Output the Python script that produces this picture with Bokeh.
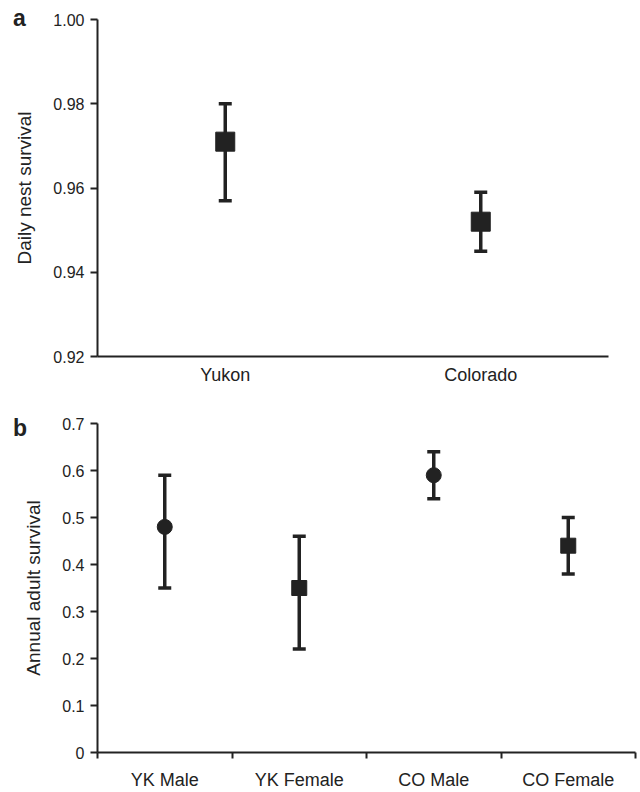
from bokeh.plotting import figure
from bokeh.models import (ColumnDataSource, Whisker, TeeHead, Range1d,
                          FixedTicker, Div)
from bokeh.embed import file_html
from bokeh.resources import INLINE

# ---- data: panel a (daily nest survival) ----
sites = ["Yukon", "Colorado"]
nest_surv = [0.971, 0.952]
nest_lo = [0.957, 0.945]
nest_hi = [0.980, 0.959]
a_ticks = [0.92, 0.94, 0.96, 0.98, 1.00]
a_tick_labels = ["0.92", "0.94", "0.96", "0.98", "1.00"]

# ---- data: panel b (annual adult survival) ----
groups = ["YK Male", "YK Female", "CO Male", "CO Female"]
adult_surv = [0.48, 0.35, 0.59, 0.44]
adult_lo = [0.35, 0.22, 0.54, 0.38]
adult_hi = [0.59, 0.46, 0.64, 0.50]
group_markers = ["circle", "square", "circle", "square"]
b_ticks = [0.0, 0.1, 0.2, 0.3, 0.4, 0.5, 0.6, 0.7]
b_tick_labels = ["0", "0.1", "0.2", "0.3", "0.4", "0.5", "0.6", "0.7"]

panel_letters = ["a", "b"]

INK = "#222222"
FONT = "Liberation Sans"


def style_axes(p):
    p.grid.visible = False
    p.outline_line_color = None
    p.background_fill_color = "white"
    p.border_fill_color = "white"
    for ax in (p.xaxis[0], p.yaxis[0]):
        ax.axis_line_color = INK
        ax.axis_line_width = 2
        ax.major_tick_line_color = INK
        ax.major_tick_line_width = 2
        ax.minor_tick_line_color = INK
        ax.minor_tick_line_width = 2
        ax.major_label_text_font = FONT
        ax.major_label_text_color = INK
        ax.axis_label_text_font = FONT
        ax.axis_label_text_color = INK
        ax.axis_label_text_font_style = "normal"
        ax.axis_label_text_font_size = "19px"
    p.yaxis.major_tick_out = 7
    p.yaxis.major_tick_in = 0
    p.yaxis.minor_tick_out = 0
    p.yaxis.minor_tick_in = 0
    p.yaxis.major_label_standoff = 6
    p.yaxis.major_label_text_font_size = "16px"
    p.yaxis.axis_label_standoff = 15
    p.xaxis.major_label_text_font_size = "18px"


def letter(text, top):
    return Div(text=text, styles={
        "position": "absolute", "left": "13px", "top": f"{top}px",
        "font-family": FONT, "font-size": "23px", "font-weight": "bold",
        "color": INK, "line-height": "23px", "margin": "0", "padding": "0"})


# ---------------- panel a ----------------
xa = [i + 0.5 for i in range(len(sites))]
src_a = ColumnDataSource(dict(x=xa, y=nest_surv, lo=nest_lo, hi=nest_hi))
pa = figure(width=640, height=387, x_range=Range1d(0, len(sites)),
            y_range=Range1d(a_ticks[0], a_ticks[-1]),
            output_backend="svg", toolbar_location=None,
            min_border_left=97, min_border_right=32, min_border_top=19, min_border_bottom=31)
pa.add_layout(Whisker(base="x", upper="hi", lower="lo", source=src_a,
                      line_color=INK, line_width=3.5,
                      upper_head=TeeHead(size=13, line_color=INK, line_width=3.5),
                      lower_head=TeeHead(size=13, line_color=INK, line_width=3.5)))
pa.scatter("x", "y", source=src_a, marker="square", size=19,
           fill_color=INK, line_color=INK)
style_axes(pa)
pa.yaxis.ticker = FixedTicker(ticks=a_ticks)
pa.yaxis.major_label_overrides = {t: l for t, l in zip(a_ticks, a_tick_labels)}
pa.yaxis.axis_label = "Daily nest survival"
pa.xaxis.ticker = FixedTicker(ticks=xa)
pa.xaxis.major_label_overrides = {x: s for x, s in zip(xa, sites)}
pa.xaxis.major_tick_out = 0
pa.xaxis.major_tick_in = 0
pa.xaxis.minor_tick_out = 0
pa.xaxis.minor_tick_in = 0
pa.xaxis.major_label_standoff = 8

# ---------------- panel b ----------------
xb = [i + 0.5 for i in range(len(groups))]
src_b = ColumnDataSource(dict(x=xb, y=adult_surv, lo=adult_lo, hi=adult_hi,
                              m=group_markers))
pb = figure(width=640, height=405, x_range=Range1d(0, len(groups)),
            y_range=Range1d(b_ticks[0], b_ticks[-1]),
            output_backend="svg", toolbar_location=None,
            min_border_left=97, min_border_right=5, min_border_top=36, min_border_bottom=39)
pb.add_layout(Whisker(base="x", upper="hi", lower="lo", source=src_b,
                      line_color=INK, line_width=3.5,
                      upper_head=TeeHead(size=13, line_color=INK, line_width=3.5),
                      lower_head=TeeHead(size=13, line_color=INK, line_width=3.5)))
pb.scatter("x", "y", source=src_b, marker="m", size=15,
           fill_color=INK, line_color=INK)
style_axes(pb)
pb.yaxis.ticker = FixedTicker(ticks=b_ticks)
pb.yaxis.major_label_overrides = {t: l for t, l in zip(b_ticks, b_tick_labels)}
pb.yaxis.axis_label = "Annual adult survival"
pb.xaxis.ticker = FixedTicker(ticks=xb, minor_ticks=list(range(len(groups) + 1)))
pb.xaxis.major_label_overrides = {x: g for x, g in zip(xb, groups)}
pb.xaxis.major_tick_out = 0
pb.xaxis.major_tick_in = 0
pb.xaxis.minor_tick_out = 6
pb.xaxis.minor_tick_in = 0
pb.xaxis.major_label_standoff = 11

div_a = letter(panel_letters[0], 7)
div_b = letter(panel_letters[1], 417)

open("out.html", "w").write(file_html([pa, pb, div_a, div_b], INLINE))
